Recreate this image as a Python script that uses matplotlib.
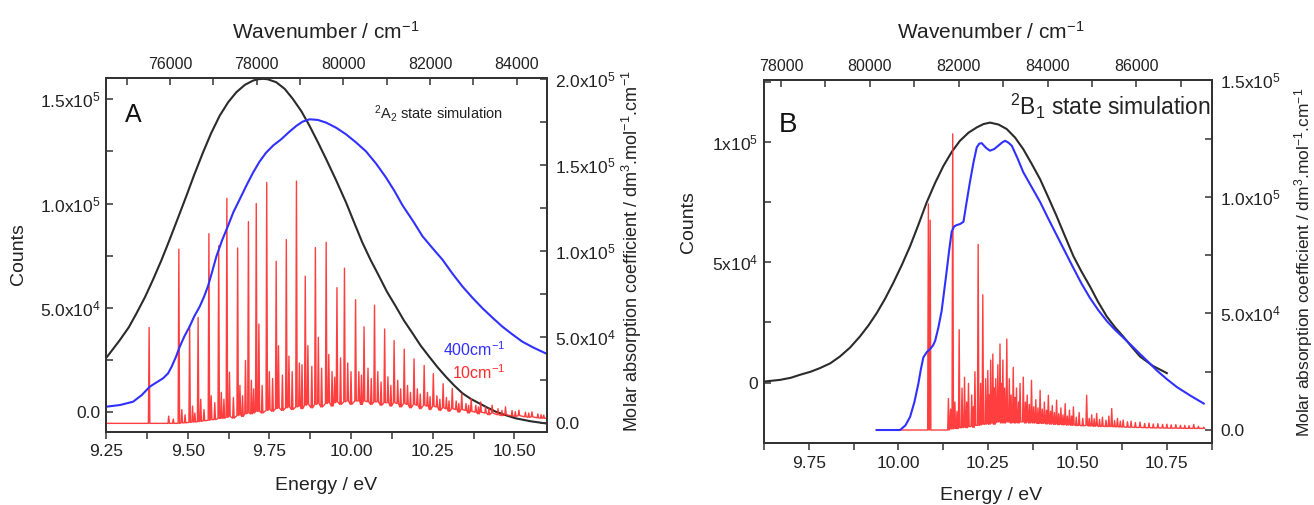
import matplotlib
matplotlib.use("Agg")
import matplotlib.pyplot as plt
from matplotlib.ticker import MultipleLocator

plt.rcParams['font.family'] = ['Liberation Sans', 'DejaVu Sans']
plt.rcParams['mathtext.fontset'] = 'custom'
plt.rcParams['mathtext.rm'] = 'Liberation Sans'
plt.rcParams['mathtext.it'] = 'Liberation Sans:italic'
plt.rcParams['mathtext.bf'] = 'Liberation Sans:bold'

# ---------------- Panel A data (2A2 state) ----------------
# black curve, counts (left axis)
a_black_e = [9.25, 9.27, 9.293, 9.32, 9.344, 9.37, 9.394, 9.42, 9.445, 9.47, 9.496, 9.52,
             9.547, 9.572, 9.598, 9.624, 9.649, 9.675, 9.70, 9.715, 9.73, 9.745, 9.771,
             9.797, 9.822, 9.848, 9.873, 9.90, 9.924, 9.955, 9.985, 10.01, 10.035, 10.06,
             10.086, 10.11, 10.137, 10.162, 10.188, 10.213, 10.239, 10.265, 10.29, 10.315,
             10.341, 10.366, 10.392, 10.418, 10.443, 10.474, 10.504, 10.55, 10.595]
a_black_y = [25960, 30000, 34760, 40800, 47600, 55400, 63600, 73000, 82840, 93000, 103660, 113800,
             124530, 133800, 142120, 148600, 153380, 156900, 158950, 159600, 159800, 159600, 158180,
             155000, 150150, 144300, 137310, 129000, 121300, 111000, 100490, 90800, 81260, 73000,
             65200, 57800, 50770, 44000, 37980, 32000, 26730, 21600, 17120, 13000,
             9140, 6500, 4330, 2200, 290, -1400, -2880, -4300, -5290]

# blue curve, 400 cm-1 broadening (right axis)
a_blue_e = [9.25, 9.293, 9.333, 9.36, 9.384, 9.405, 9.425, 9.44, 9.451, 9.464, 9.476, 9.49,
            9.506, 9.52, 9.537, 9.55, 9.562, 9.575, 9.588, 9.605, 9.623, 9.64, 9.659, 9.68,
            9.70, 9.72, 9.74, 9.762, 9.786, 9.81, 9.832, 9.852, 9.873, 9.898, 9.924, 9.955,
            9.985, 10.015, 10.046, 10.077, 10.107, 10.133, 10.158, 10.19, 10.219, 10.25,
            10.28, 10.31, 10.341, 10.372, 10.402, 10.433, 10.463, 10.494, 10.524, 10.56, 10.595]
a_blue_y = [9650, 10640, 12560, 16500, 21280, 23800, 26160, 29000, 32910, 38500, 44540, 50500,
            56160, 62000, 67790, 73400, 79420, 88000, 96860, 106000, 114300, 122500, 129830, 138000,
            145350, 151800, 156980, 161200, 164710, 168900, 172440, 175000, 176340, 176000, 174420, 171400,
            167620, 163000, 157730, 150600, 142620, 134800, 126340, 117300, 108490, 101500,
            94940, 87000, 79420, 72800, 66860, 61300, 56160, 51600, 47440, 43800, 40700]

# red stick spectrum, 10 cm-1 broadening (right axis): line position, height, local floor
a_red_e = [9.25, 9.382, 9.442, 9.456, 9.473, 9.482, 9.492, 9.506, 9.515, 9.522, 9.532, 9.540,
           9.550, 9.565, 9.572, 9.583, 9.595, 9.603, 9.611, 9.620, 9.628, 9.640, 9.653, 9.660,
           9.668, 9.677, 9.686, 9.695, 9.702, 9.710, 9.718, 9.728, 9.742, 9.750, 9.760, 9.771,
           9.778, 9.790, 9.802, 9.810, 9.820, 9.833, 9.842, 9.850, 9.860, 9.868, 9.880, 9.891,
           9.900, 9.910, 9.924, 9.932, 9.942, 9.950, 9.957, 9.968, 9.980, 9.990, 10.000, 10.014,
           10.024, 10.032, 10.040, 10.052, 10.062, 10.072, 10.082, 10.092, 10.103, 10.113, 10.122,
           10.132, 10.143, 10.152, 10.163, 10.173, 10.182, 10.193, 10.203, 10.212, 10.224, 10.234,
           10.242, 10.252, 10.263, 10.272, 10.282, 10.292, 10.300, 10.310, 10.322, 10.330, 10.339,
           10.352, 10.360, 10.368, 10.382, 10.390, 10.397, 10.412, 10.422, 10.432, 10.450, 10.462,
           10.473, 10.493, 10.503, 10.514, 10.534, 10.544, 10.554, 10.572, 10.582, 10.590, 10.600]
a_red_h = [0, 55600, 4200, 2500, 101000, 8000, 5000, 56600, 10000, 6000, 61400, 14000,
           8000, 110000, 16000, 12000, 103000, 18000, 14000, 130500, 29700, 15000, 101700, 22000,
           16000, 36500, 117000, 25000, 20000, 127500, 57600, 22000, 139700, 30000, 26000, 94000,
           45000, 28000, 106600, 39000, 30000, 140500, 35000, 34000, 85400, 45000, 33000, 102000,
           49900, 32000, 105000, 40000, 30000, 26800, 78700, 38000, 90000, 35000, 30000, 71700,
           30000, 28000, 56000, 32000, 26000, 68500, 30000, 24000, 54700, 27000, 22000,
           48000, 25000, 20000, 43000, 22000, 18000, 37400, 20000, 17000, 33600, 18000,
           15500, 28800, 16000, 14000, 23000, 15000, 13000, 20200, 13000, 11500, 17300,
           11500, 10500, 14400, 10500, 9500, 12400, 9500, 8500, 10500, 8500, 7500,
           9600, 7500, 6800, 7700, 6500, 6000, 6700, 5500, 5000, 4800, 3000]
a_red_base = [0, 0, 0, 0, 0, 300, 300, 600, 800, 800, 1000, 1200,
              1500, 1800, 2200, 2200, 2800, 3000, 3000, 3500, 4000, 3000, 4500, 5000,
              4000, 5500, 6000, 5500, 6000, 7000, 7000, 6000, 7500, 8000, 7000, 8500,
              9000, 7500, 9000, 9500, 8000, 9500, 10000, 8500, 10500, 11000, 9000, 11000,
              11500, 9500, 11500, 12000, 10000, 12000, 12500, 11000, 12500, 13000, 11000, 13000,
              13000, 11000, 13000, 12500, 11000, 12500, 12500, 10500, 12000, 12000, 10000,
              12000, 11500, 9500, 11500, 11000, 9000, 11000, 10500, 8500, 10500, 10000,
              8000, 10000, 9500, 7500, 9000, 8500, 7000, 8500, 8000, 6500, 8000,
              7500, 6000, 7000, 6500, 5500, 6500, 6000, 5000, 6000, 5000, 4500,
              5000, 4300, 4000, 4500, 3800, 3500, 3800, 3200, 3000, 3000, 3000]

# ---------------- Panel B data (2B1 state) ----------------
b_black_e = [9.625, 9.67, 9.70, 9.725, 9.755, 9.781, 9.81, 9.837, 9.865, 9.893, 9.917, 9.94,
             9.963, 9.986, 10.01, 10.033, 10.056, 10.079, 10.103, 10.126, 10.15, 10.172,
             10.196, 10.219, 10.238, 10.256, 10.28, 10.303, 10.326, 10.349, 10.372, 10.396,
             10.419, 10.442, 10.466, 10.489, 10.512, 10.535, 10.558, 10.582, 10.605, 10.628,
             10.652, 10.675, 10.71, 10.75]
b_black_y = [420, 1130, 2000, 3210, 4500, 6000, 8000, 10830, 14500, 19170, 23800, 28920,
             34800, 41420, 48900, 56670, 65500, 74750, 83000, 90000, 96000, 100420,
             103800, 106000, 107400, 108000, 107200, 105300, 101800, 96970, 91000, 84470,
             76900, 69170, 60600, 52500, 46000, 40000, 33500, 27500, 23000, 19170,
             14800, 10830, 7000, 3920]

b_blue_e = [9.94, 10.005, 10.02, 10.033, 10.045, 10.056, 10.063, 10.07, 10.08, 10.089, 10.097,
            10.103, 10.112, 10.121, 10.128, 10.135, 10.142, 10.149, 10.156, 10.163, 10.172,
            10.182, 10.19, 10.2, 10.21, 10.219, 10.226, 10.233, 10.245, 10.256, 10.268, 10.279,
            10.29, 10.298, 10.307, 10.317, 10.333, 10.349, 10.372, 10.396, 10.419, 10.442,
            10.466, 10.489, 10.512, 10.535, 10.558, 10.582, 10.605, 10.628, 10.652, 10.675,
            10.70, 10.722, 10.75, 10.778, 10.815, 10.853]
b_blue_y = [0, 0, 2000, 5660, 12000, 19860, 26000, 31170, 33500, 34740, 36300,
            38270, 44000, 51020, 59500, 68030, 77000, 85040, 87300, 87890, 88300,
            89290, 97000, 106300, 114800, 121180, 122800, 123000, 121000, 119780, 120500, 121900,
            123300, 124030, 123300, 121900, 116500, 110550, 104300, 97800, 90600, 83630,
            76400, 69440, 62700, 56680, 51500, 46770, 43000, 39670, 36100, 32610,
            28900, 25510, 21800, 18410, 14800, 11350]

b_red_e = [9.94, 10.084, 10.089, 10.140, 10.146, 10.152, 10.158, 10.164, 10.170, 10.178, 10.185,
           10.191, 10.196, 10.205, 10.210, 10.214, 10.223, 10.230, 10.236, 10.244, 10.250, 10.254,
           10.258, 10.264, 10.268, 10.272, 10.278, 10.284, 10.288, 10.292, 10.297, 10.303, 10.310,
           10.315, 10.321, 10.326, 10.330, 10.336, 10.340, 10.349, 10.355, 10.360, 10.366, 10.372,
           10.378, 10.384, 10.390, 10.396, 10.402, 10.408, 10.414, 10.419, 10.425, 10.430, 10.436,
           10.442, 10.448, 10.454, 10.460, 10.466, 10.472, 10.478, 10.484, 10.489, 10.497, 10.505,
           10.515, 10.526, 10.533, 10.540, 10.547, 10.554, 10.562, 10.570, 10.580, 10.588, 10.596,
           10.604, 10.612, 10.620, 10.628, 10.640, 10.650, 10.662, 10.675, 10.688, 10.700, 10.712,
           10.725, 10.738, 10.750, 10.762, 10.775, 10.788, 10.800, 10.812, 10.825, 10.838, 10.853]
b_red_h = [0, 97000, 90000, 13500, 9000, 127000, 12000, 8000, 43000, 18000, 22600,
           12000, 20000, 15000, 10000, 25000, 79600, 20000, 58000, 22000, 25500, 15000,
           30000, 32600, 18000, 22000, 28000, 36900, 20000, 30000, 18000, 39000, 22000,
           15000, 26900, 14000, 18000, 12000, 20000, 22700, 12000, 15000, 11000, 21300,
           10000, 13000, 9500, 17000, 9000, 12000, 8500, 14900, 8000, 10500, 7500,
           12800, 7000, 9500, 6500, 11300, 6000, 8500, 6000, 9900, 5500, 7500,
           5000, 14900, 5000, 6500, 4800, 7100, 4500, 5500, 4200, 6000, 9200,
           4000, 5000, 3800, 4300, 3500, 3800, 3200, 3400, 2800, 3000, 2600,
           2700, 2400, 2500, 2200, 2300, 2000, 2000, 1800, 2400, 1600, 1200]
b_red_base = [0, 0, 0, 0, 500, 500, 800, 600, 1000, 1000, 1200,
              1000, 1500, 1500, 1200, 2000, 2000, 2200, 2500, 2500, 3000, 2500,
              3000, 3000, 2500, 3200, 3500, 3500, 3000, 3500, 3000, 3500, 3500,
              3000, 3500, 3000, 3500, 3000, 3500, 3500, 3000, 3500, 3000, 3200,
              3000, 3200, 2800, 3000, 2800, 3000, 2600, 2800, 2500, 2800, 2400,
              2600, 2300, 2500, 2200, 2400, 2100, 2300, 2000, 2200, 1900, 2000,
              1800, 2000, 1700, 1800, 1600, 1800, 1500, 1600, 1500, 1500, 1500,
              1400, 1400, 1300, 1300, 1200, 1200, 1100, 1100, 1000, 1000, 900,
              900, 850, 800, 800, 800, 750, 700, 700, 700, 700, 700]

# ---------------- ticks ----------------
a_bottom_ticks = [9.25, 9.5, 9.75, 10.0, 10.25, 10.5]
a_bottom_labels = ['9.25', '9.50', '9.75', '10.00', '10.25', '10.50']
a_left_ticks = [0, 50000, 100000, 150000]
a_left_labels = ['0.0', r'5.0x10$^4$', r'1.0x10$^5$', r'1.5x10$^5$']
a_right_ticks = [0, 50000, 100000, 150000, 200000]
a_right_labels = ['0.0', r'5.0x10$^4$', r'1.0x10$^5$', r'1.5x10$^5$', r'2.0x10$^5$']

b_bottom_ticks = [9.75, 10.0, 10.25, 10.5, 10.75]
b_bottom_labels = ['9.75', '10.00', '10.25', '10.50', '10.75']
b_left_ticks = [0, 50000, 100000]
b_left_labels = ['0', r'5x10$^4$', r'1x10$^5$']
b_right_ticks = [0, 50000, 100000, 150000]
b_right_labels = ['0.0', r'5.0x10$^4$', r'1.0x10$^5$', r'1.5x10$^5$']

FIG_W, FIG_H = 1314, 505
INK = '#333333'
TXT = '#222222'
BLACK = '#2b2b2b'
BLUE = '#3030ff'
RED = '#ff2a2a'
TICK_FS = 12.5


def px(x, y):
    # pixel position -> figure fraction
    return x / FIG_W, 1 - y / FIG_H


def stick_line(e, h, base, w):
    xs, ys = [], []
    for ei, hi, bi in zip(e, h, base):
        xs += [ei - w, ei, ei + w]
        ys += [bi, hi, bi]
    return xs, ys


def style_axes(ax, axr, axt):
    for a in (ax, axr, axt):
        for s in a.spines.values():
            s.set_color(INK)
            s.set_linewidth(1.3)
    ax.tick_params(axis='x', which='both', direction='out', length=5, width=1.1,
                   color=INK, labelsize=TICK_FS, pad=4, labelcolor=TXT)
    ax.tick_params(axis='y', which='both', direction='in', length=5, width=1.1,
                   color=INK, labelsize=TICK_FS, pad=4, labelcolor=TXT)
    axr.tick_params(axis='y', which='both', direction='in', length=5, width=1.1,
                    color=INK, labelsize=TICK_FS, pad=6, labelcolor=TXT)
    axt.tick_params(axis='x', which='both', direction='in', length=5, width=1.1,
                    color=INK, labelsize=11.5, pad=4, labelcolor=TXT)


fig = plt.figure(figsize=(FIG_W / 100, FIG_H / 100), dpi=100)

# ---------------- Panel A ----------------
axA = fig.add_axes([106 / FIG_W, 73 / FIG_H, 441 / FIG_W, 354 / FIG_H])
axA_r = axA.twinx()
axA_t = axA.twiny()

axA.plot(a_black_e, a_black_y, color=BLACK, lw=1.5)
rx, ry = stick_line(a_red_e, a_red_h, a_red_base, 0.0022)
axA_r.plot(rx, ry, color=RED, lw=1.0, alpha=0.9)
axA_r.plot(a_blue_e, a_blue_y, color=BLUE, lw=1.5)

axA.set_xlim(9.25, 10.6)
axA.set_ylim(-9440, 160200)
axA_r.set_ylim(-5010, 200300)
axA_t.set_xlim(74520, 84700)

axA.set_xticks(a_bottom_ticks)
axA.set_xticklabels(a_bottom_labels)
axA.xaxis.set_minor_locator(MultipleLocator(0.125))
axA.set_yticks(a_left_ticks)
axA.set_yticklabels(a_left_labels)
axA.yaxis.set_minor_locator(MultipleLocator(25000))
axA_r.set_yticks(a_right_ticks)
axA_r.set_yticklabels(a_right_labels)
axA_r.yaxis.set_minor_locator(MultipleLocator(25000))
axA_t.xaxis.set_major_locator(MultipleLocator(2000))
axA_t.xaxis.set_minor_locator(MultipleLocator(1000))
style_axes(axA, axA_r, axA_t)

axA.text(0.061, 0.895, 'A', transform=axA.transAxes, fontsize=18,
         ha='center', va='center', color='#111111')
axA.text(0.90, 0.901, r'$^2$A$_2$ state simulation', transform=axA.transAxes,
         fontsize=10.5, ha='right', va='center', color=TXT)
axA.text(0.905, 0.232, r'400cm$^{-1}$', transform=axA.transAxes, fontsize=11.5,
         ha='right', va='center', color=BLUE)
axA.text(0.905, 0.167, r'10cm$^{-1}$', transform=axA.transAxes, fontsize=11.5,
         ha='right', va='center', color=RED)

# ---------------- Panel B ----------------
axB = fig.add_axes([764 / FIG_W, 62 / FIG_H, 448 / FIG_W, 363 / FIG_H])
axB_r = axB.twinx()
axB_t = axB.twiny()

axB.plot(b_black_e, b_black_y, color=BLACK, lw=1.5)
rx, ry = stick_line(b_red_e, b_red_h, b_red_base, 0.002)
axB_r.plot(rx, ry, color=RED, lw=1.0, alpha=0.9)
axB_r.plot(b_blue_e, b_blue_y, color=BLUE, lw=1.5)

axB.set_xlim(9.625, 10.876)
axB.set_ylim(-25100, 125700)
axB_r.set_ylim(-5570, 150100)
axB_t.set_xlim(77620, 87700)

axB.set_xticks(b_bottom_ticks)
axB.set_xticklabels(b_bottom_labels)
axB.xaxis.set_minor_locator(MultipleLocator(0.125))
axB.set_yticks(b_left_ticks)
axB.set_yticklabels(b_left_labels)
axB.yaxis.set_minor_locator(MultipleLocator(25000))
axB_r.set_yticks(b_right_ticks)
axB_r.set_yticklabels(b_right_labels)
axB_r.yaxis.set_minor_locator(MultipleLocator(25000))
axB_t.xaxis.set_major_locator(MultipleLocator(2000))
axB_t.xaxis.set_minor_locator(MultipleLocator(1000))
style_axes(axB, axB_r, axB_t)

axB.text(0.054, 0.876, 'B', transform=axB.transAxes, fontsize=20,
         ha='center', va='center', color='#111111')
axB.text(0.998, 0.926, r'$^2$B$_1$ state simulation', transform=axB.transAxes,
         fontsize=16.5, ha='right', va='center', color=TXT)

# ---------------- axis titles ----------------
lab = dict(color=TXT, ha='center', va='center')
ylab_r = r'Molar absorption coefficient / dm$^3$.mol$^{-1}$.cm$^{-1}$'
fig.text(*px(19, 254), 'Counts', rotation=90, fontsize=14, **lab)
fig.text(*px(632, 251), ylab_r, rotation=90, fontsize=13, **lab)
fig.text(*px(326, 485), 'Energy / eV', fontsize=14, **lab)
fig.text(*px(326, 32), r'Wavenumber / cm$^{-1}$', fontsize=15, **lab)

fig.text(*px(688, 222), 'Counts', rotation=90, fontsize=14, **lab)
fig.text(*px(1304, 262), ylab_r, rotation=90, fontsize=12.5, **lab)
fig.text(*px(991, 495), 'Energy / eV', fontsize=14, **lab)
fig.text(*px(991, 32), r'Wavenumber / cm$^{-1}$', fontsize=15, **lab)

fig.savefig('out.png', dpi=100)
